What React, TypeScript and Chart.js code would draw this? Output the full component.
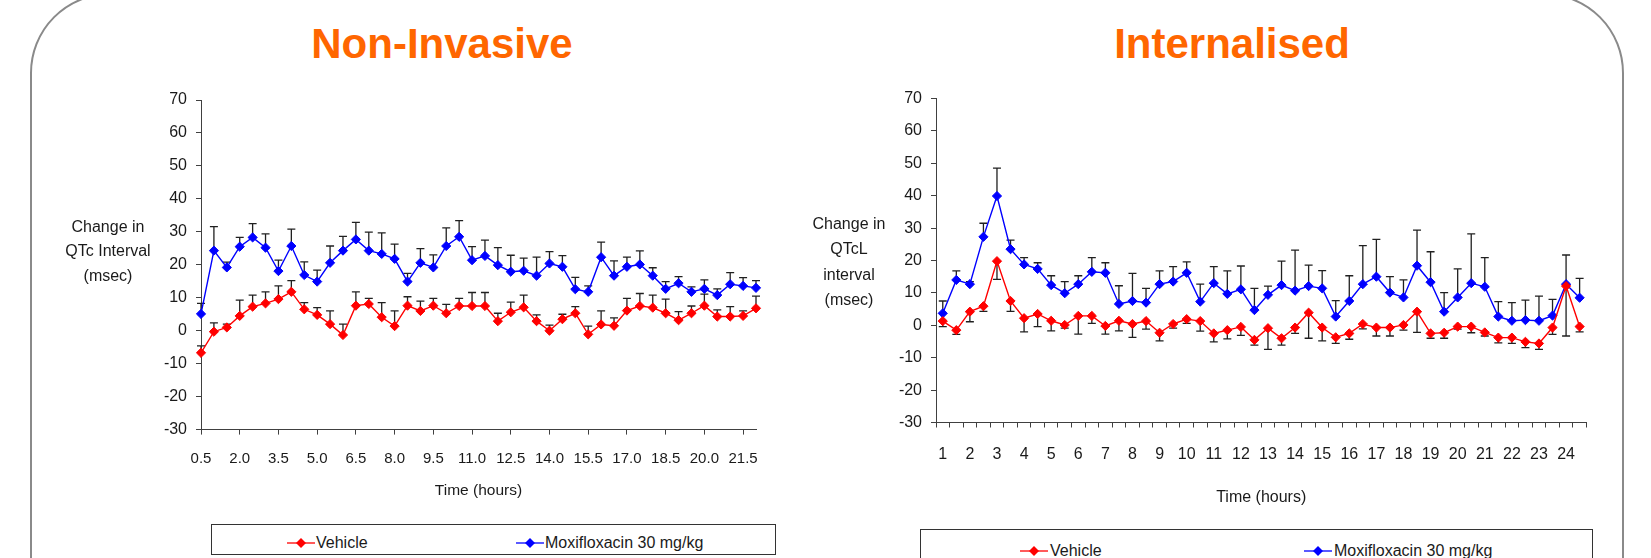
import React, { useEffect, useRef } from 'react';
import { Chart, registerables } from 'chart.js';

Chart.register(...registerables);

const FONT = "'Liberation Sans', Arial, Helvetica, sans-serif";
const TEXT = '#1a1a1a';
const AXIS = '#404040';
const RED = '#ff0000';
const BLUE = '#0000ff';

// ---------- Non-Invasive (left) ----------
const leftTimes = [
  '0.5', '1.0', '1.5', '2.0', '2.5', '3.0', '3.5', '4.0', '4.5', '5.0', '5.5',
  '6.0', '6.5', '7.0', '7.5', '8.0', '8.5', '9.0', '9.5', '10.0', '10.5', '11.0',
  '11.5', '12.0', '12.5', '13.0', '13.5', '14.0', '14.5', '15.0', '15.5', '16.0',
  '16.5', '17.0', '17.5', '18.0', '18.5', '19.0', '19.5', '20.0', '20.5', '21.0',
  '21.5', '22.0',
];
const leftVehicle = [
  -6.7, -0.3, 1.0, 4.5, 7.3, 8.3, 9.6, 11.8, 6.5, 4.8, 2.0, -1.3, 7.6, 8.1, 4.1,
  1.4, 7.6, 6.0, 7.6, 5.3, 7.5, 7.5, 7.5, 2.9, 5.6, 7.1, 2.9, 0.0, 3.5, 5.3, -1.1,
  1.9, 1.5, 6.1, 7.5, 7.0, 5.3, 3.2, 5.3, 7.6, 4.3, 4.3, 4.5, 6.8,
];
const leftVehicleErr = [
  2.1, 2.7, 1.0, 4.8, 3.5, 3.5, 4.0, 3.4, 2.0, 2.2, 4.0, 3.3, 4.2, 1.7, 4.4, 4.6,
  2.7, 3.0, 2.2, 2.7, 2.3, 4.1, 4.1, 2.4, 3.1, 3.7, 1.9, 1.7, 1.5, 2.0, 2.5, 4.1,
  2.4, 3.7, 3.8, 3.8, 4.3, 2.6, 2.2, 3.5, 2.0, 3.0, 1.5, 3.7,
];
const leftMoxi = [
  5.1, 24.3, 19.2, 25.5, 28.3, 25.2, 18.1, 25.7, 16.9, 14.9, 20.6, 24.3, 27.7,
  24.3, 23.3, 21.8, 14.9, 20.6, 19.2, 25.7, 28.5, 21.4, 22.7, 19.9, 17.9, 18.2,
  16.7, 20.4, 19.4, 12.6, 11.8, 22.3, 16.7, 19.4, 20.1, 16.7, 12.7, 14.4, 11.8,
  12.7, 10.8, 14.1, 13.6, 13.0,
];
const leftMoxiErr = [
  3.2, 7.3, 1.6, 2.8, 4.2, 4.2, 3.3, 5.1, 4.0, 3.5, 5.1, 4.3, 5.2, 5.6, 6.4, 4.5,
  2.5, 4.3, 3.8, 5.5, 4.9, 4.1, 4.8, 5.3, 5.0, 3.8, 5.6, 3.6, 3.4, 3.6, 1.8, 4.6,
  4.5, 2.9, 4.1, 2.4, 2.2, 2.0, 1.5, 2.7, 1.9, 3.5, 2.5, 2.2,
];

// ---------- Internalised (right) ----------
const rightTimes = [
  '1', '1.5', '2', '2.5', '3', '3.5', '4', '4.5', '5', '5.5', '6', '6.5', '7',
  '7.5', '8', '8.5', '9', '9.5', '10', '10.5', '11', '11.5', '12', '12.5', '13',
  '13.5', '14', '14.5', '15', '15.5', '16', '16.5', '17', '17.5', '18', '18.5',
  '19', '19.5', '20', '20.5', '21', '21.5', '22', '22.5', '23', '23.5', '24', '24.5',
];
const rightVehicle = [
  1.3, -1.5, 4.2, 5.9, 19.8, 7.5, 2.2, 3.5, 1.4, 0.1, 2.9, 2.9, -0.2, 1.4, 0.4,
  1.3, -2.3, 0.4, 1.9, 1.3, -2.5, -1.5, -0.5, -4.5, -0.9, -4.0, -0.7, 3.9, -0.7,
  -3.7, -2.5, 0.4, -0.7, -0.7, 0.1, 4.2, -2.5, -2.3, -0.4, -0.4, -2.2, -3.8, -3.8,
  -5.1, -5.6, -0.7, 12.1, -0.4,
];
const rightVehicleErr = [
  1.7, 1.3, 3.1, 1.6, 5.6, 3.2, 4.2, 3.9, 3.1, 1.0, 5.6, 2.3, 2.5, 3.1, 4.1, 2.5,
  2.5, 1.3, 1.3, 3.1, 2.6, 2.7, 2.6, 1.6, 6.5, 2.1, 1.8, 7.9, 4.1, 1.9, 1.8, 1.5,
  2.6, 2.6, 1.6, 6.4, 1.5, 1.7, 0.8, 1.9, 1.1, 1.6, 1.8, 1.8, 1.8, 2.1, 15.4, 1.6,
];
const rightMoxi = [
  3.7, 14.0, 12.7, 27.3, 39.9, 23.5, 18.8, 17.4, 12.4, 9.9, 12.7, 16.5, 16.2, 6.6,
  7.5, 7.0, 12.7, 13.5, 16.2, 7.3, 13.0, 9.7, 11.1, 4.7, 9.4, 12.4, 10.7, 12.1,
  11.4, 2.7, 7.5, 12.7, 15.0, 10.1, 8.6, 18.4, 13.3, 4.2, 8.6, 13.0, 11.9, 2.7,
  1.4, 1.6, 1.4, 3.0, 12.7, 8.5,
];
const rightMoxiErr = [
  3.8, 2.8, 0.8, 4.2, 8.6, 2.8, 2.1, 1.9, 2.9, 3.6, 2.6, 4.4, 3.1, 5.6, 8.5, 4.4,
  4.1, 4.6, 3.4, 5.4, 5.1, 7.1, 7.2, 6.7, 2.7, 7.4, 12.5, 6.5, 5.5, 4.9, 7.8, 11.9,
  11.5, 4.9, 5.4, 11.0, 9.4, 5.9, 8.8, 15.2, 9.0, 4.6, 5.6, 6.2, 7.6, 5.0, 9.0, 6.0,
];

const seriesNames = ['Vehicle', 'Moxifloxacin 30 mg/kg'];

const errorBars = {
  id: 'errorBars',
  beforeDatasetsDraw(chart: any) {
    const ctx = chart.ctx;
    const yScale = chart.scales.y;
    chart.data.datasets.forEach((ds: any, di: number) => {
      if (!ds.errors) return;
      const meta = chart.getDatasetMeta(di);
      ctx.save();
      ctx.strokeStyle = '#202020';
      ctx.lineWidth = 1.3;
      meta.data.forEach((pt: any, i: number) => {
        const v = ds.data[i];
        const e = ds.errors[i];
        const x = pt.x;
        const y0 = yScale.getPixelForValue(v);
        const y1 = yScale.getPixelForValue(v + ds.errDir * e);
        ctx.beginPath();
        ctx.moveTo(x, y0);
        ctx.lineTo(x, y1);
        ctx.moveTo(x - 4, y1);
        ctx.lineTo(x + 4, y1);
        ctx.stroke();
      });
      ctx.restore();
    });
  },
};

function dataset(label: string, data: number[], errors: number[], errDir: number, color: string) {
  return {
    label,
    data,
    errors,
    errDir,
    borderColor: color,
    backgroundColor: color,
    pointBackgroundColor: color,
    pointBorderColor: color,
    pointBorderWidth: 1,
    pointStyle: 'rectRot',
    pointRadius: 4.6,
    borderWidth: 1.4,
    tension: 0,
  };
}

function yAxis(fontSize: number) {
  return {
    min: -30,
    max: 70,
    afterFit: (s: any) => {
      s.width = 50;
    },
    ticks: { stepSize: 10, padding: 9, color: TEXT, font: { family: FONT, size: fontSize } },
    grid: { drawOnChartArea: false, tickLength: 5, color: AXIS, tickColor: AXIS },
    border: { color: AXIS, width: 1 },
  };
}

function leftConfig(): any {
  return {
    type: 'line',
    data: {
      labels: leftTimes,
      datasets: [
        dataset(seriesNames[0], leftVehicle, leftVehicleErr, 1, RED),
        dataset(seriesNames[1], leftMoxi, leftMoxiErr, 1, BLUE),
      ],
    },
    options: {
      animation: false,
      responsive: false,
      layout: { padding: { left: 151, right: 64, top: 100, bottom: 20 } },
      plugins: { legend: { display: false }, tooltip: { enabled: false }, title: { display: false } },
      scales: {
        x: {
          type: 'category',
          offset: false,
          afterFit: (s: any) => {
            s.height = 70.4;
          },
          ticks: {
            autoSkip: false,
            maxRotation: 0,
            minRotation: 0,
            padding: 15,
            color: TEXT,
            font: { family: FONT, size: 15 },
            callback: (_v: any, i: number) => (i % 3 === 0 ? leftTimes[i] : null),
          },
          grid: { drawOnChartArea: false, tickLength: 5, color: AXIS, tickColor: AXIS },
          border: { color: AXIS, width: 1 },
          title: { display: true, text: 'Time (hours)', color: TEXT, font: { family: FONT, size: 15.5 }, padding: 0 },
        },
        y: yAxis(16),
      },
    },
    plugins: [errorBars],
  };
}

function rightConfig(): any {
  return {
    type: 'line',
    data: {
      labels: rightTimes,
      datasets: [
        dataset(seriesNames[0], rightVehicle, rightVehicleErr, -1, RED),
        dataset(seriesNames[1], rightMoxi, rightMoxiErr, 1, BLUE),
      ],
    },
    options: {
      animation: false,
      responsive: false,
      layout: { padding: { left: 66, right: 64.6, top: 98.5, bottom: 12.4 } },
      plugins: { legend: { display: false }, tooltip: { enabled: false }, title: { display: false } },
      scales: {
        x: {
          type: 'category',
          offset: true,
          afterFit: (s: any) => {
            s.height = 85.1;
          },
          ticks: {
            autoSkip: false,
            maxRotation: 0,
            minRotation: 0,
            padding: 17,
            color: TEXT,
            font: { family: FONT, size: 16 },
            callback: (_v: any, i: number) => (i % 2 === 0 ? rightTimes[i] : ''),
          },
          grid: { drawOnChartArea: false, offset: true, tickLength: 5, color: AXIS, tickColor: AXIS },
          border: { color: AXIS, width: 1 },
          title: { display: true, text: 'Time (hours)', color: TEXT, font: { family: FONT, size: 16 }, padding: 0 },
        },
        y: yAxis(16),
      },
    },
    plugins: [errorBars],
  };
}

function ChartView(props: { config: () => any; left: number; top: number; width: number; height: number }) {
  const ref = useRef<HTMLCanvasElement>(null);
  useEffect(() => {
    const chart = new Chart(ref.current as HTMLCanvasElement, props.config());
    return () => chart.destroy();
  }, []);
  return (
    <canvas
      ref={ref}
      width={props.width}
      height={props.height}
      style={{ position: 'absolute', left: props.left, top: props.top, width: props.width, height: props.height }}
    />
  );
}

function LegendMarker({ color }: { color: string }) {
  return (
    <svg width={28} height={12} style={{ display: 'block' }}>
      <line x1={0} y1={6} x2={28} y2={6} stroke={color} strokeWidth={1.3} />
      <polygon points="14,1 19,6 14,11 9,6" fill={color} />
    </svg>
  );
}

function LegendBox(props: {
  left: number;
  top: number;
  width: number;
  height: number;
  items: { color: string; label: string; markerX: number; textX: number }[];
  textY: number;
}) {
  return (
    <div
      style={{
        position: 'absolute',
        left: props.left,
        top: props.top,
        width: props.width,
        height: props.height,
        border: '1.5px solid #333',
        boxSizing: 'border-box',
        background: '#fff',
      }}
    >
      {props.items.map((it) => (
        <React.Fragment key={it.label}>
          <div style={{ position: 'absolute', left: it.markerX - props.left - 14, top: props.textY - props.top - 6 }}>
            <LegendMarker color={it.color} />
          </div>
          <div
            style={{
              position: 'absolute',
              left: it.textX - props.left,
              top: props.textY - props.top - 10,
              height: 20,
              lineHeight: '20px',
              fontFamily: FONT,
              fontSize: 16,
              color: TEXT,
              whiteSpace: 'nowrap',
            }}
          >
            {it.label}
          </div>
        </React.Fragment>
      ))}
    </div>
  );
}

function Title({ text, cx }: { text: string; cx: number }) {
  return (
    <div
      style={{
        position: 'absolute',
        left: cx,
        top: 23,
        transform: 'translateX(-50%)',
        fontFamily: FONT,
        fontWeight: 'bold',
        fontSize: 42,
        lineHeight: 1,
        color: '#ff6600',
        whiteSpace: 'nowrap',
      }}
    >
      {text}
    </div>
  );
}

function YTitle({ lines, cx, firstCy, lh }: { lines: string[]; cx: number; firstCy: number; lh: number }) {
  return (
    <div
      style={{
        position: 'absolute',
        left: cx - 70,
        width: 140,
        top: firstCy - lh / 2,
        textAlign: 'center',
        fontFamily: FONT,
        fontSize: 16,
        lineHeight: `${lh}px`,
        color: TEXT,
      }}
    >
      {lines.map((l) => (
        <div key={l}>{l}</div>
      ))}
    </div>
  );
}

export default function App() {
  return (
    <div
      style={{
        position: 'absolute',
        left: 0,
        top: 0,
        width: 1651,
        height: 558,
        overflow: 'hidden',
        background: '#ffffff',
      }}
    >
      <div
        style={{
          position: 'absolute',
          left: 30,
          top: -7,
          width: 1594,
          height: 700,
          border: '2px solid #8a8a8a',
          borderRadius: 80,
          boxSizing: 'border-box',
        }}
      />
      <Title text="Non-Invasive" cx={442} />
      <Title text="Internalised" cx={1232} />
      <ChartView config={leftConfig} left={0} top={0} width={820} height={520} />
      <ChartView config={rightConfig} left={820} top={0} width={831} height={520} />
      <YTitle lines={['Change in', 'QTc Interval', '(msec)']} cx={108} firstCy={227} lh={24.5} />
      <YTitle lines={['Change in', 'QTcL', 'interval', '(msec)']} cx={849} firstCy={223.5} lh={25.5} />
      <LegendBox
        left={211}
        top={524}
        width={565}
        height={31}
        textY={542}
        items={[
          { color: RED, label: seriesNames[0], markerX: 300, textX: 315 },
          { color: BLUE, label: seriesNames[1], markerX: 529, textX: 544 },
        ]}
      />
      <LegendBox
        left={920}
        top={529}
        width={673}
        height={45}
        textY={550}
        items={[
          { color: RED, label: seriesNames[0], markerX: 1033, textX: 1049 },
          { color: BLUE, label: seriesNames[1], markerX: 1317, textX: 1333 },
        ]}
      />
    </div>
  );
}
